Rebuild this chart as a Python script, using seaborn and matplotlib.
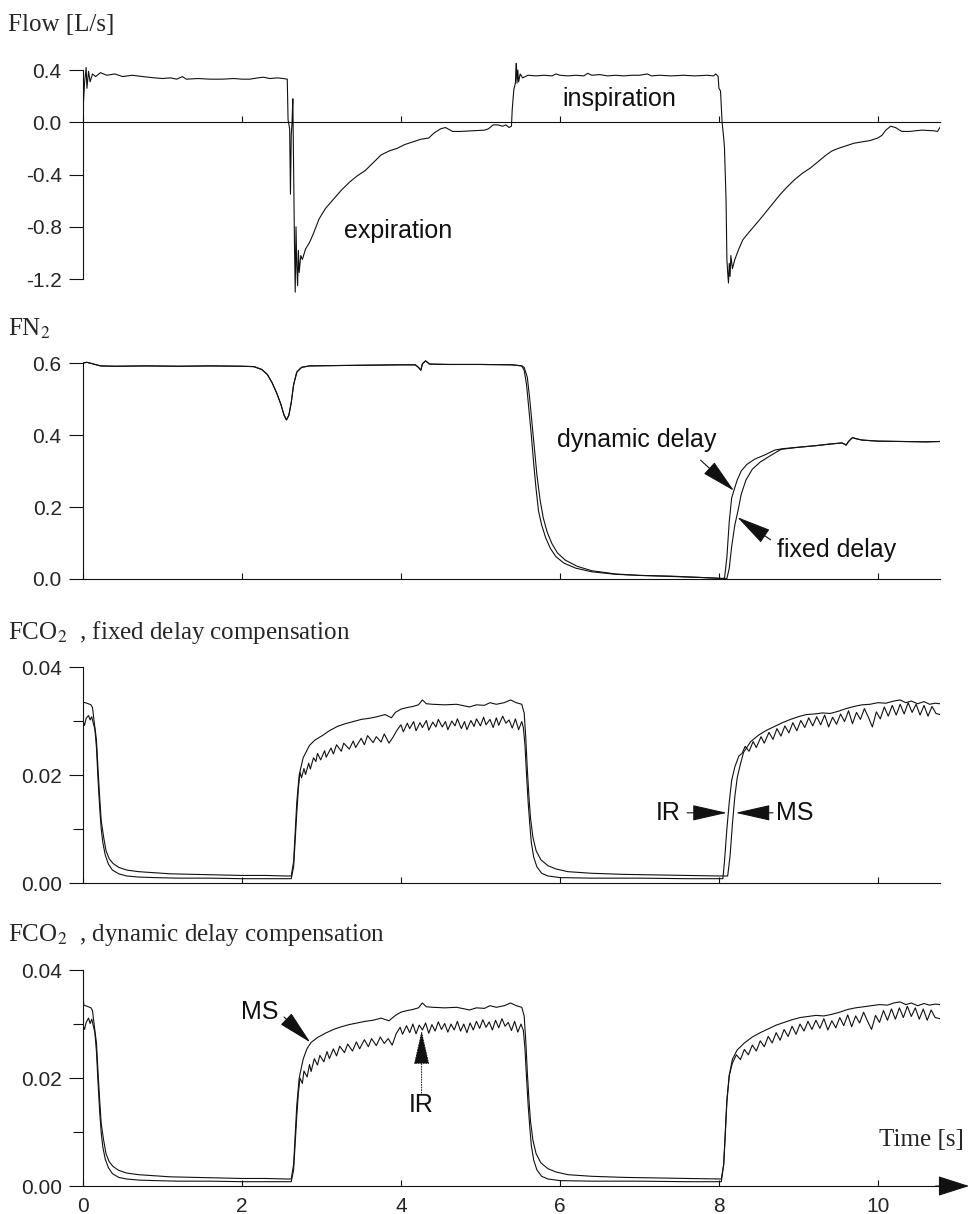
import matplotlib
matplotlib.use("Agg")
import matplotlib.pyplot as plt
import seaborn as sns

# === data: (time [s], value) ===
flow = [
    (0.00, 0.08), (0.02, 0.30), (0.04, 0.42), (0.05, 0.26), (0.07, 0.39), (0.09, 0.31),
    (0.12, 0.37), (0.16, 0.35), (0.22, 0.38), (0.30, 0.36), (0.40, 0.37), (0.50, 0.35),
    (0.62, 0.36), (0.75, 0.35), (0.90, 0.34), (1.00, 0.335), (1.10, 0.34), (1.18, 0.33),
    (1.25, 0.35), (1.30, 0.33), (1.45, 0.335), (1.60, 0.33), (1.75, 0.33), (1.90, 0.335),
    (2.00, 0.33), (2.10, 0.33), (2.20, 0.34), (2.27, 0.345), (2.35, 0.335), (2.45, 0.34),
    (2.52, 0.335), (2.57, 0.33), (2.58, 0.02), (2.60, -0.05), (2.61, -0.55), (2.62, -0.10),
    (2.63, 0.0), (2.64, 0.18), (2.65, -0.40), (2.66, -0.90), (2.67, -1.30), (2.68, -0.80),
    (2.69, -1.10), (2.70, -1.25), (2.71, -0.98), (2.72, -1.15), (2.74, -1.02), (2.76, -1.05),
    (2.80, -0.97), (2.85, -0.92), (2.90, -0.85), (2.97, -0.74), (3.05, -0.66), (3.15, -0.59),
    (3.25, -0.52), (3.35, -0.46), (3.45, -0.41), (3.55, -0.37), (3.65, -0.31), (3.75, -0.25),
    (3.85, -0.22), (3.95, -0.20), (4.05, -0.17), (4.15, -0.15), (4.25, -0.13), (4.35, -0.12),
    (4.42, -0.08), (4.50, -0.05), (4.56, -0.04), (4.65, -0.07), (4.75, -0.07), (4.90, -0.065),
    (5.05, -0.06), (5.10, -0.05), (5.16, -0.02), (5.22, -0.02), (5.28, -0.03), (5.32, -0.02),
    (5.36, -0.04), (5.39, -0.03), (5.40, 0.10), (5.42, 0.25), (5.44, 0.30), (5.45, 0.49),
    (5.46, 0.30), (5.47, 0.40), (5.48, 0.31), (5.50, 0.37), (5.53, 0.34), (5.60, 0.36),
    (5.70, 0.355), (5.80, 0.36), (5.90, 0.355), (5.95, 0.37), (6.00, 0.36), (6.10, 0.355),
    (6.20, 0.36), (6.30, 0.355), (6.35, 0.375), (6.40, 0.36), (6.50, 0.365), (6.60, 0.355),
    (6.70, 0.36), (6.80, 0.355), (6.90, 0.36), (7.00, 0.36), (7.10, 0.37), (7.15, 0.355),
    (7.25, 0.36), (7.40, 0.355), (7.55, 0.36), (7.70, 0.355), (7.85, 0.36), (7.93, 0.355),
    (7.96, 0.37), (7.99, 0.35), (8.00, 0.26), (8.02, 0.24), (8.04, 0.0), (8.06, -0.12),
    (8.07, -0.20), (8.09, -0.60), (8.10, -1.05), (8.11, -1.15), (8.12, -1.23), (8.13, -1.08),
    (8.14, -1.18), (8.15, -1.02), (8.17, -1.12), (8.20, -1.05), (8.25, -0.97), (8.30, -0.90),
    (8.38, -0.84), (8.45, -0.79), (8.52, -0.74), (8.60, -0.68), (8.68, -0.62), (8.76, -0.56),
    (8.85, -0.50), (8.95, -0.44), (9.05, -0.39), (9.15, -0.35), (9.25, -0.30), (9.35, -0.25),
    (9.42, -0.22), (9.50, -0.20), (9.60, -0.18), (9.70, -0.16), (9.80, -0.15), (9.90, -0.14),
    (10.00, -0.12), (10.05, -0.10), (10.10, -0.06), (10.16, -0.03), (10.22, -0.04),
    (10.30, -0.07), (10.40, -0.07), (10.55, -0.06), (10.70, -0.065), (10.75, -0.07), (10.79, -0.03),
]

fn2_dynamic = [
    (0.00, 0.600), (0.05, 0.602), (0.12, 0.598), (0.22, 0.592), (0.40, 0.591), (0.80, 0.592),
    (1.20, 0.591), (1.60, 0.592), (2.00, 0.591), (2.15, 0.590), (2.25, 0.582), (2.32, 0.568),
    (2.38, 0.545), (2.44, 0.515), (2.49, 0.485), (2.53, 0.455), (2.56, 0.442), (2.59, 0.455),
    (2.62, 0.490), (2.65, 0.540), (2.69, 0.575), (2.75, 0.588), (2.85, 0.592), (3.20, 0.593),
    (3.60, 0.594), (4.00, 0.595), (4.18, 0.595), (4.22, 0.588), (4.25, 0.580), (4.27, 0.598),
    (4.31, 0.606), (4.36, 0.597), (4.60, 0.596), (5.00, 0.596), (5.40, 0.595), (5.52, 0.592),
    (5.55, 0.580), (5.58, 0.540), (5.61, 0.470), (5.64, 0.400), (5.67, 0.320), (5.70, 0.250),
    (5.73, 0.190), (5.77, 0.150), (5.82, 0.115), (5.88, 0.085), (5.95, 0.062), (6.05, 0.044),
    (6.20, 0.030), (6.40, 0.020), (6.70, 0.013), (7.00, 0.010), (7.40, 0.008), (7.80, 0.004),
    (8.02, 0.002), (8.07, 0.002), (8.10, 0.060), (8.13, 0.160), (8.16, 0.225), (8.19, 0.247),
    (8.23, 0.275), (8.28, 0.300), (8.35, 0.318), (8.45, 0.333), (8.58, 0.345), (8.70, 0.358),
    (8.80, 0.362), (9.00, 0.366), (9.20, 0.370), (9.40, 0.375), (9.55, 0.378), (9.60, 0.372),
    (9.63, 0.382), (9.68, 0.393), (9.72, 0.390), (9.80, 0.386), (10.00, 0.383), (10.30, 0.382),
    (10.60, 0.381), (10.78, 0.382),
]

fn2_fixed = [
    (0.00, 0.600), (0.05, 0.602), (0.12, 0.598), (0.22, 0.592), (0.40, 0.591), (0.80, 0.592),
    (1.20, 0.591), (1.60, 0.592), (2.00, 0.591), (2.15, 0.590), (2.25, 0.582), (2.32, 0.568),
    (2.38, 0.545), (2.44, 0.515), (2.49, 0.485), (2.53, 0.455), (2.56, 0.442), (2.59, 0.455),
    (2.62, 0.490), (2.65, 0.540), (2.69, 0.575), (2.75, 0.588), (2.85, 0.592), (3.20, 0.593),
    (3.60, 0.594), (4.00, 0.595), (4.18, 0.595), (4.22, 0.588), (4.25, 0.580), (4.27, 0.598),
    (4.31, 0.606), (4.36, 0.597), (4.60, 0.596), (5.00, 0.596), (5.40, 0.595), (5.52, 0.592),
    (5.55, 0.588), (5.59, 0.560), (5.62, 0.500), (5.65, 0.430), (5.68, 0.360), (5.71, 0.290),
    (5.75, 0.220), (5.79, 0.170), (5.84, 0.130), (5.90, 0.098), (5.97, 0.072), (6.07, 0.052),
    (6.22, 0.035), (6.40, 0.023), (6.70, 0.014), (7.00, 0.010), (7.40, 0.007), (7.80, 0.004),
    (8.05, 0.001), (8.10, 0.001), (8.13, 0.030), (8.16, 0.090), (8.20, 0.150), (8.24, 0.190),
    (8.28, 0.235), (8.34, 0.275), (8.42, 0.305), (8.52, 0.325), (8.65, 0.343), (8.78, 0.360),
    (9.00, 0.366), (9.20, 0.370), (9.40, 0.375), (9.55, 0.378), (9.60, 0.372), (9.63, 0.382),
    (9.68, 0.393), (9.72, 0.390), (9.80, 0.386), (10.00, 0.383), (10.30, 0.382), (10.60, 0.381),
    (10.78, 0.382),
]

ms_fixed = [
    (0.00, 0.0335), (0.05, 0.0333), (0.10, 0.0330), (0.12, 0.0325), (0.14, 0.0300), (0.17, 0.0265),
    (0.19, 0.0210), (0.21, 0.0160), (0.23, 0.0115), (0.26, 0.0085), (0.29, 0.0060), (0.33, 0.0045),
    (0.38, 0.0036), (0.45, 0.0029), (0.55, 0.0024), (0.70, 0.0021), (0.90, 0.0019), (1.10, 0.0017),
    (1.40, 0.0016), (1.70, 0.0015), (2.00, 0.0014), (2.30, 0.0014), (2.55, 0.0013), (2.62, 0.0013),
    (2.65, 0.0040), (2.67, 0.0095), (2.69, 0.0150), (2.72, 0.0200), (2.77, 0.0232), (2.85, 0.0255),
    (2.92, 0.0265), (3.00, 0.0272), (3.10, 0.0282), (3.20, 0.0290), (3.30, 0.0295), (3.40, 0.0299),
    (3.50, 0.0303), (3.60, 0.0305), (3.70, 0.0308), (3.80, 0.0312), (3.88, 0.0306), (3.93, 0.0316),
    (4.00, 0.0322), (4.08, 0.0325), (4.15, 0.0327), (4.22, 0.0330), (4.27, 0.0339), (4.32, 0.0332),
    (4.40, 0.0331), (4.55, 0.0330), (4.70, 0.0331), (4.80, 0.0328), (4.86, 0.0326), (4.95, 0.0330),
    (5.05, 0.0329), (5.12, 0.0334), (5.20, 0.0331), (5.30, 0.0334), (5.38, 0.0339), (5.45, 0.0334),
    (5.52, 0.0331), (5.55, 0.0315), (5.57, 0.0270), (5.59, 0.0210), (5.61, 0.0160), (5.63, 0.0120),
    (5.66, 0.0085), (5.70, 0.0060), (5.76, 0.0043), (5.85, 0.0032), (5.95, 0.0026), (6.10, 0.0021),
    (6.40, 0.0018), (6.80, 0.0016), (7.20, 0.0015), (7.60, 0.0014), (8.00, 0.0013), (8.11, 0.0013),
    (8.14, 0.0050), (8.17, 0.0110), (8.20, 0.0160), (8.23, 0.0195), (8.27, 0.0220), (8.31, 0.0242),
    (8.40, 0.0262), (8.50, 0.0274), (8.60, 0.0283), (8.70, 0.0290), (8.80, 0.0297), (8.90, 0.0303),
    (9.00, 0.0308), (9.10, 0.0312), (9.20, 0.0313), (9.30, 0.0315), (9.40, 0.0314), (9.50, 0.0318),
    (9.60, 0.0323), (9.70, 0.0327), (9.80, 0.0330), (9.90, 0.0331), (10.00, 0.0334), (10.10, 0.0333),
    (10.20, 0.0337), (10.28, 0.0339), (10.35, 0.0334), (10.42, 0.0337), (10.50, 0.0332),
    (10.58, 0.0336), (10.65, 0.0331), (10.72, 0.0333), (10.78, 0.0332),
]

ir_fixed = [
    (0.00, 0.0300), (0.02, 0.0292), (0.04, 0.0305), (0.07, 0.0310), (0.09, 0.0302), (0.11, 0.0308),
    (0.13, 0.0296), (0.15, 0.0285), (0.17, 0.0250), (0.19, 0.0190), (0.21, 0.0140), (0.23, 0.0100),
    (0.25, 0.0075), (0.28, 0.0052), (0.32, 0.0035), (0.37, 0.0024), (0.45, 0.0017), (0.55, 0.0013),
    (0.70, 0.0011), (0.90, 0.0010), (1.20, 0.0009), (1.60, 0.0009), (2.00, 0.0008), (2.40, 0.0008),
    (2.62, 0.0008), (2.65, 0.0030), (2.67, 0.0080), (2.69, 0.0130), (2.71, 0.0175), (2.73, 0.0205),
    (2.75, 0.0195), (2.78, 0.0212), (2.80, 0.0201), (2.84, 0.0222), (2.86, 0.0211), (2.90, 0.0232),
    (2.93, 0.0225), (2.95, 0.0240), (2.99, 0.0228), (3.04, 0.0245), (3.06, 0.0233), (3.12, 0.0250),
    (3.15, 0.0239), (3.19, 0.0256), (3.25, 0.0244), (3.28, 0.0259), (3.35, 0.0248), (3.40, 0.0263),
    (3.43, 0.0251), (3.50, 0.0268), (3.54, 0.0256), (3.58, 0.0273), (3.65, 0.0260), (3.69, 0.0271),
    (3.75, 0.0261), (3.79, 0.0276), (3.85, 0.0259), (3.90, 0.0270), (3.95, 0.0283), (4.00, 0.0293),
    (4.03, 0.0280), (4.08, 0.0296), (4.11, 0.0286), (4.16, 0.0299), (4.19, 0.0282), (4.24, 0.0297),
    (4.27, 0.0288), (4.32, 0.0301), (4.35, 0.0283), (4.40, 0.0298), (4.44, 0.0289), (4.47, 0.0303),
    (4.52, 0.0289), (4.56, 0.0299), (4.59, 0.0284), (4.64, 0.0300), (4.68, 0.0291), (4.71, 0.0304),
    (4.76, 0.0286), (4.80, 0.0299), (4.83, 0.0284), (4.88, 0.0301), (4.92, 0.0290), (4.95, 0.0304),
    (5.00, 0.0291), (5.04, 0.0307), (5.07, 0.0293), (5.12, 0.0303), (5.16, 0.0288), (5.20, 0.0306),
    (5.23, 0.0292), (5.28, 0.0309), (5.32, 0.0296), (5.36, 0.0302), (5.40, 0.0287), (5.44, 0.0304),
    (5.48, 0.0284), (5.52, 0.0299), (5.54, 0.0288), (5.56, 0.0255), (5.58, 0.0200), (5.60, 0.0150),
    (5.62, 0.0110), (5.64, 0.0075), (5.67, 0.0048), (5.71, 0.0030), (5.77, 0.0018), (5.85, 0.0013),
    (6.00, 0.0010), (6.40, 0.0009), (7.00, 0.0009), (7.60, 0.0008), (8.05, 0.0008), (8.07, 0.0040),
    (8.10, 0.0100), (8.13, 0.0150), (8.16, 0.0190), (8.20, 0.0215), (8.25, 0.0235), (8.29, 0.0240),
    (8.33, 0.0253), (8.38, 0.0244), (8.43, 0.0262), (8.47, 0.0251), (8.53, 0.0271), (8.57, 0.0259),
    (8.63, 0.0279), (8.68, 0.0266), (8.73, 0.0286), (8.78, 0.0272), (8.83, 0.0291), (8.88, 0.0278),
    (8.93, 0.0297), (8.98, 0.0282), (9.03, 0.0301), (9.08, 0.0288), (9.13, 0.0306), (9.18, 0.0291),
    (9.23, 0.0308), (9.28, 0.0293), (9.33, 0.0311), (9.38, 0.0289), (9.43, 0.0307), (9.48, 0.0294),
    (9.53, 0.0313), (9.58, 0.0299), (9.63, 0.0319), (9.68, 0.0295), (9.73, 0.0316), (9.78, 0.0303),
    (9.83, 0.0323), (9.88, 0.0307), (9.93, 0.0289), (9.98, 0.0317), (10.03, 0.0304), (10.08, 0.0326),
    (10.13, 0.0309), (10.18, 0.0329), (10.23, 0.0311), (10.28, 0.0331), (10.33, 0.0313),
    (10.38, 0.0334), (10.43, 0.0316), (10.48, 0.0331), (10.53, 0.0311), (10.58, 0.0329),
    (10.63, 0.0309), (10.68, 0.0327), (10.73, 0.0314), (10.78, 0.0312),
]

ms_dynamic = [
    (0.00, 0.0360), (0.01, 0.0335), (0.05, 0.0333), (0.10, 0.0330), (0.12, 0.0325), (0.14, 0.0300),
    (0.17, 0.0265), (0.19, 0.0210), (0.21, 0.0160), (0.23, 0.0115), (0.26, 0.0085), (0.29, 0.0060),
    (0.33, 0.0045), (0.38, 0.0036), (0.45, 0.0029), (0.55, 0.0024), (0.70, 0.0021), (0.90, 0.0019),
    (1.10, 0.0017), (1.40, 0.0016), (1.70, 0.0015), (2.00, 0.0014), (2.30, 0.0014), (2.55, 0.0013),
    (2.62, 0.0013), (2.65, 0.0040), (2.67, 0.0095), (2.69, 0.0150), (2.72, 0.0200), (2.77, 0.0235),
    (2.82, 0.0255), (2.87, 0.0266), (2.95, 0.0275), (3.05, 0.0283), (3.15, 0.0290), (3.25, 0.0295),
    (3.35, 0.0299), (3.45, 0.0302), (3.55, 0.0305), (3.65, 0.0307), (3.75, 0.0311), (3.85, 0.0306),
    (3.93, 0.0316), (4.00, 0.0322), (4.08, 0.0325), (4.15, 0.0327), (4.22, 0.0330), (4.27, 0.0339),
    (4.32, 0.0332), (4.40, 0.0331), (4.55, 0.0330), (4.70, 0.0331), (4.80, 0.0328), (4.86, 0.0326),
    (4.95, 0.0330), (5.05, 0.0329), (5.12, 0.0334), (5.20, 0.0331), (5.30, 0.0334), (5.38, 0.0339),
    (5.45, 0.0334), (5.52, 0.0331), (5.55, 0.0315), (5.57, 0.0270), (5.59, 0.0210), (5.61, 0.0160),
    (5.63, 0.0120), (5.66, 0.0085), (5.70, 0.0060), (5.76, 0.0043), (5.85, 0.0032), (5.95, 0.0026),
    (6.10, 0.0021), (6.40, 0.0018), (6.80, 0.0016), (7.20, 0.0015), (7.60, 0.0014), (8.03, 0.0013),
    (8.06, 0.0040), (8.08, 0.0095), (8.10, 0.0155), (8.13, 0.0205), (8.17, 0.0235), (8.23, 0.0252),
    (8.32, 0.0265), (8.42, 0.0276), (8.52, 0.0284), (8.62, 0.0291), (8.72, 0.0298), (8.82, 0.0303),
    (8.92, 0.0308), (9.02, 0.0312), (9.12, 0.0314), (9.22, 0.0316), (9.32, 0.0315), (9.42, 0.0318),
    (9.52, 0.0322), (9.62, 0.0327), (9.72, 0.0330), (9.82, 0.0332), (9.92, 0.0334), (10.02, 0.0336),
    (10.12, 0.0335), (10.20, 0.0339), (10.28, 0.0341), (10.35, 0.0336), (10.42, 0.0339),
    (10.50, 0.0334), (10.58, 0.0338), (10.65, 0.0335), (10.72, 0.0337), (10.78, 0.0336),
]

ir_dynamic = [
    (0.00, 0.0298), (0.02, 0.0290), (0.04, 0.0303), (0.07, 0.0311), (0.09, 0.0301), (0.11, 0.0309),
    (0.13, 0.0297), (0.15, 0.0284), (0.17, 0.0248), (0.19, 0.0190), (0.21, 0.0138), (0.23, 0.0098),
    (0.25, 0.0072), (0.28, 0.0050), (0.32, 0.0034), (0.37, 0.0023), (0.45, 0.0016), (0.55, 0.0013),
    (0.70, 0.0011), (0.90, 0.0010), (1.20, 0.0009), (1.60, 0.0009), (2.00, 0.0008), (2.40, 0.0008),
    (2.62, 0.0008), (2.65, 0.0030), (2.67, 0.0080), (2.69, 0.0130), (2.71, 0.0172), (2.73, 0.0200),
    (2.76, 0.0190), (2.78, 0.0213), (2.82, 0.0202), (2.85, 0.0225), (2.87, 0.0212), (2.91, 0.0236),
    (2.95, 0.0224), (2.98, 0.0242), (3.03, 0.0230), (3.07, 0.0249), (3.10, 0.0236), (3.15, 0.0254),
    (3.19, 0.0241), (3.23, 0.0259), (3.29, 0.0247), (3.33, 0.0263), (3.39, 0.0250), (3.44, 0.0267),
    (3.48, 0.0254), (3.54, 0.0271), (3.59, 0.0258), (3.63, 0.0273), (3.69, 0.0260), (3.74, 0.0276),
    (3.79, 0.0264), (3.84, 0.0273), (3.89, 0.0261), (3.94, 0.0282), (3.99, 0.0294), (4.02, 0.0281),
    (4.07, 0.0297), (4.11, 0.0284), (4.15, 0.0300), (4.19, 0.0282), (4.23, 0.0298), (4.27, 0.0289),
    (4.31, 0.0302), (4.35, 0.0283), (4.39, 0.0299), (4.43, 0.0287), (4.47, 0.0304), (4.51, 0.0290),
    (4.55, 0.0301), (4.59, 0.0285), (4.63, 0.0300), (4.67, 0.0289), (4.71, 0.0305), (4.75, 0.0287),
    (4.79, 0.0300), (4.83, 0.0284), (4.87, 0.0302), (4.91, 0.0289), (4.95, 0.0305), (4.99, 0.0292),
    (5.03, 0.0308), (5.07, 0.0294), (5.11, 0.0304), (5.15, 0.0289), (5.19, 0.0307), (5.23, 0.0293),
    (5.27, 0.0310), (5.31, 0.0296), (5.35, 0.0303), (5.39, 0.0288), (5.43, 0.0305), (5.47, 0.0285),
    (5.51, 0.0300), (5.54, 0.0288), (5.56, 0.0255), (5.58, 0.0200), (5.60, 0.0150), (5.62, 0.0110),
    (5.64, 0.0075), (5.67, 0.0048), (5.71, 0.0030), (5.77, 0.0018), (5.85, 0.0013), (6.00, 0.0010),
    (6.40, 0.0009), (7.00, 0.0009), (7.60, 0.0008), (8.03, 0.0008), (8.06, 0.0040), (8.08, 0.0100),
    (8.10, 0.0160), (8.13, 0.0205), (8.17, 0.0228), (8.22, 0.0243), (8.27, 0.0234), (8.32, 0.0253),
    (8.37, 0.0243), (8.42, 0.0261), (8.47, 0.0250), (8.52, 0.0269), (8.57, 0.0258), (8.62, 0.0277),
    (8.67, 0.0265), (8.72, 0.0284), (8.77, 0.0270), (8.82, 0.0290), (8.87, 0.0277), (8.92, 0.0296),
    (8.97, 0.0281), (9.02, 0.0300), (9.07, 0.0287), (9.12, 0.0305), (9.17, 0.0290), (9.22, 0.0307),
    (9.27, 0.0292), (9.32, 0.0310), (9.37, 0.0289), (9.42, 0.0306), (9.47, 0.0293), (9.52, 0.0312),
    (9.57, 0.0297), (9.62, 0.0317), (9.67, 0.0295), (9.72, 0.0315), (9.77, 0.0302), (9.82, 0.0322),
    (9.87, 0.0305), (9.92, 0.0290), (9.97, 0.0316), (10.02, 0.0303), (10.07, 0.0325), (10.12, 0.0307),
    (10.17, 0.0328), (10.22, 0.0309), (10.27, 0.0330), (10.32, 0.0312), (10.37, 0.0333),
    (10.42, 0.0314), (10.47, 0.0330), (10.52, 0.0309), (10.57, 0.0328), (10.62, 0.0307),
    (10.67, 0.0326), (10.72, 0.0312), (10.78, 0.0310),
]

x_ticks = [0, 2, 4, 6, 8, 10]
flow_ticks = [-1.2, -0.8, -0.4, 0.0, 0.4]
fn2_ticks = [0.0, 0.2, 0.4, 0.6]
co2_ticks = [0.00, 0.02, 0.04]
co2_minor = [0.01, 0.03]

# === style ===
sns.set_style("ticks")
plt.rcParams["font.family"] = ["Liberation Sans", "DejaVu Sans"]
plt.rcParams["mathtext.fontset"] = "stix"
SERIF = ["Liberation Serif", "DejaVu Serif"]
INK = "#111111"

fig = plt.figure(figsize=(9.69, 12.14), dpi=100)
L, W = 0.0852, 0.8848
ax1 = fig.add_axes([L, 0.7572, W, 0.1905])
ax2 = fig.add_axes([L, 0.5201, W, 0.1868])
ax3 = fig.add_axes([L, 0.2682, W, 0.1868])
ax4 = fig.add_axes([L, 0.0186, W, 0.1868])


def trace(ax, pts):
    t = [p[0] for p in pts]
    v = [p[1] for p in pts]
    sns.lineplot(x=t, y=v, ax=ax, color=INK, lw=0.8, estimator=None, sort=False)


def frame(ax, ylim, yticks, labels, minor=None, xlabels=False):
    ax.set_xlim(-0.005, 10.78)
    ax.set_ylim(*ylim)
    for s in ["top", "right"]:
        ax.spines[s].set_visible(False)
    ax.spines["bottom"].set_position(("data", 0))
    ax.spines["bottom"].set_bounds(0, 10.78)
    ax.spines["left"].set_bounds(min(yticks), max(yticks))
    for s in ["left", "bottom"]:
        ax.spines[s].set_linewidth(0.8)
        ax.spines[s].set_color(INK)
    ax.set_yticks(yticks)
    ax.set_yticklabels(labels, fontsize=15)
    if minor:
        ax.set_yticks(minor, minor=True)
        ax.tick_params(axis="y", which="minor", direction="out", length=7, width=0.8, color=INK)
    ax.tick_params(axis="y", which="major", direction="out", length=10, width=0.8, pad=5, color=INK)
    ax.set_xticks(x_ticks)
    ax.tick_params(axis="x", direction="in", length=4, width=0.8, pad=8, color=INK)
    if xlabels:
        ax.set_xticklabels([str(v) for v in x_ticks], fontsize=15)
    else:
        ax.set_xticklabels([])
    ax.set_xlabel("")
    ax.set_ylabel("")


trace(ax1, flow)
frame(ax1, (-1.32, 0.45), flow_ticks, ["-1.2", "-0.8", "-0.4", "0.0", "0.4"])

trace(ax2, fn2_dynamic)
trace(ax2, fn2_fixed)
frame(ax2, (-0.01, 0.62), fn2_ticks, ["0.0", "0.2", "0.4", "0.6"])

trace(ax3, ms_fixed)
trace(ax3, ir_fixed)
frame(ax3, (-0.001, 0.041), co2_ticks, ["0.00", "0.02", "0.04"], minor=co2_minor)

trace(ax4, ms_dynamic)
trace(ax4, ir_dynamic)
frame(ax4, (-0.001, 0.041), co2_ticks, ["0.00", "0.02", "0.04"], minor=co2_minor, xlabels=True)

# panel titles
fig.text(8 / 969, 1 - 25 / 1214, "Flow [L/s]", family=SERIF, fontsize=18, va="center")
fig.text(8 / 969, 1 - 329 / 1214, r"FN$_2$", family=SERIF, fontsize=18, va="center")
fig.text(8 / 969, 1 - 633 / 1214, r"FCO$_2$  , fixed delay compensation", family=SERIF, fontsize=18, va="center")
fig.text(8 / 969, 1 - 935 / 1214, r"FCO$_2$  , dynamic delay compensation", family=SERIF, fontsize=18, va="center")
fig.text(964 / 969, 1 - 1140 / 1214, "Time [s]", family=SERIF, fontsize=18, va="center", ha="right")

# annotations
ann = dict(fontsize=18, ha="center", va="center", color=INK)
head = dict(arrowstyle="-|>,head_length=1.1,head_width=0.25", mutation_scale=20,
            color=INK, lw=0.8, shrinkA=0, shrinkB=0)

ax1.text(6.75, 0.176, "inspiration", **ann)
ax1.text(3.96, -0.83, "expiration", **ann)

ax2.text(6.96, 0.386, "dynamic delay", **ann)
ax2.annotate("", xy=(8.19, 0.245), xytext=(7.77, 0.33), arrowprops=head)
ax2.text(9.48, 0.081, "fixed delay", **ann)
ax2.annotate("", xy=(8.23, 0.172), xytext=(8.65, 0.109), arrowprops=head)

ax3.text(7.36, 0.0130, "IR", **ann)
ax3.annotate("", xy=(8.10, 0.0130), xytext=(7.60, 0.0130), arrowprops=head)
ax3.text(8.96, 0.0130, "MS", **ann)
ax3.annotate("", xy=(8.21, 0.0130), xytext=(8.68, 0.0130), arrowprops=head)

ax4.text(2.22, 0.0323, "MS", **ann)
ax4.annotate("", xy=(2.86, 0.0266), xytext=(2.53, 0.0313), arrowprops=head)
ax4.text(4.26, 0.0150, "IR", **ann)
dotted = dict(head, ls=":", lw=0.7)
ax4.annotate("", xy=(4.26, 0.0288), xytext=(4.26, 0.0172), arrowprops=dotted)

# arrow at the end of the time axis
ax4.annotate("", xy=(1.034, 0), xytext=(0.995, 0), xycoords=("axes fraction", "data"),
             textcoords=("axes fraction", "data"), annotation_clip=False,
             arrowprops=dict(arrowstyle="-|>,head_length=1.0,head_width=0.32", mutation_scale=20,
                             color=INK, lw=0.8, shrinkA=0, shrinkB=0))

fig.savefig("out.png", dpi=100)
